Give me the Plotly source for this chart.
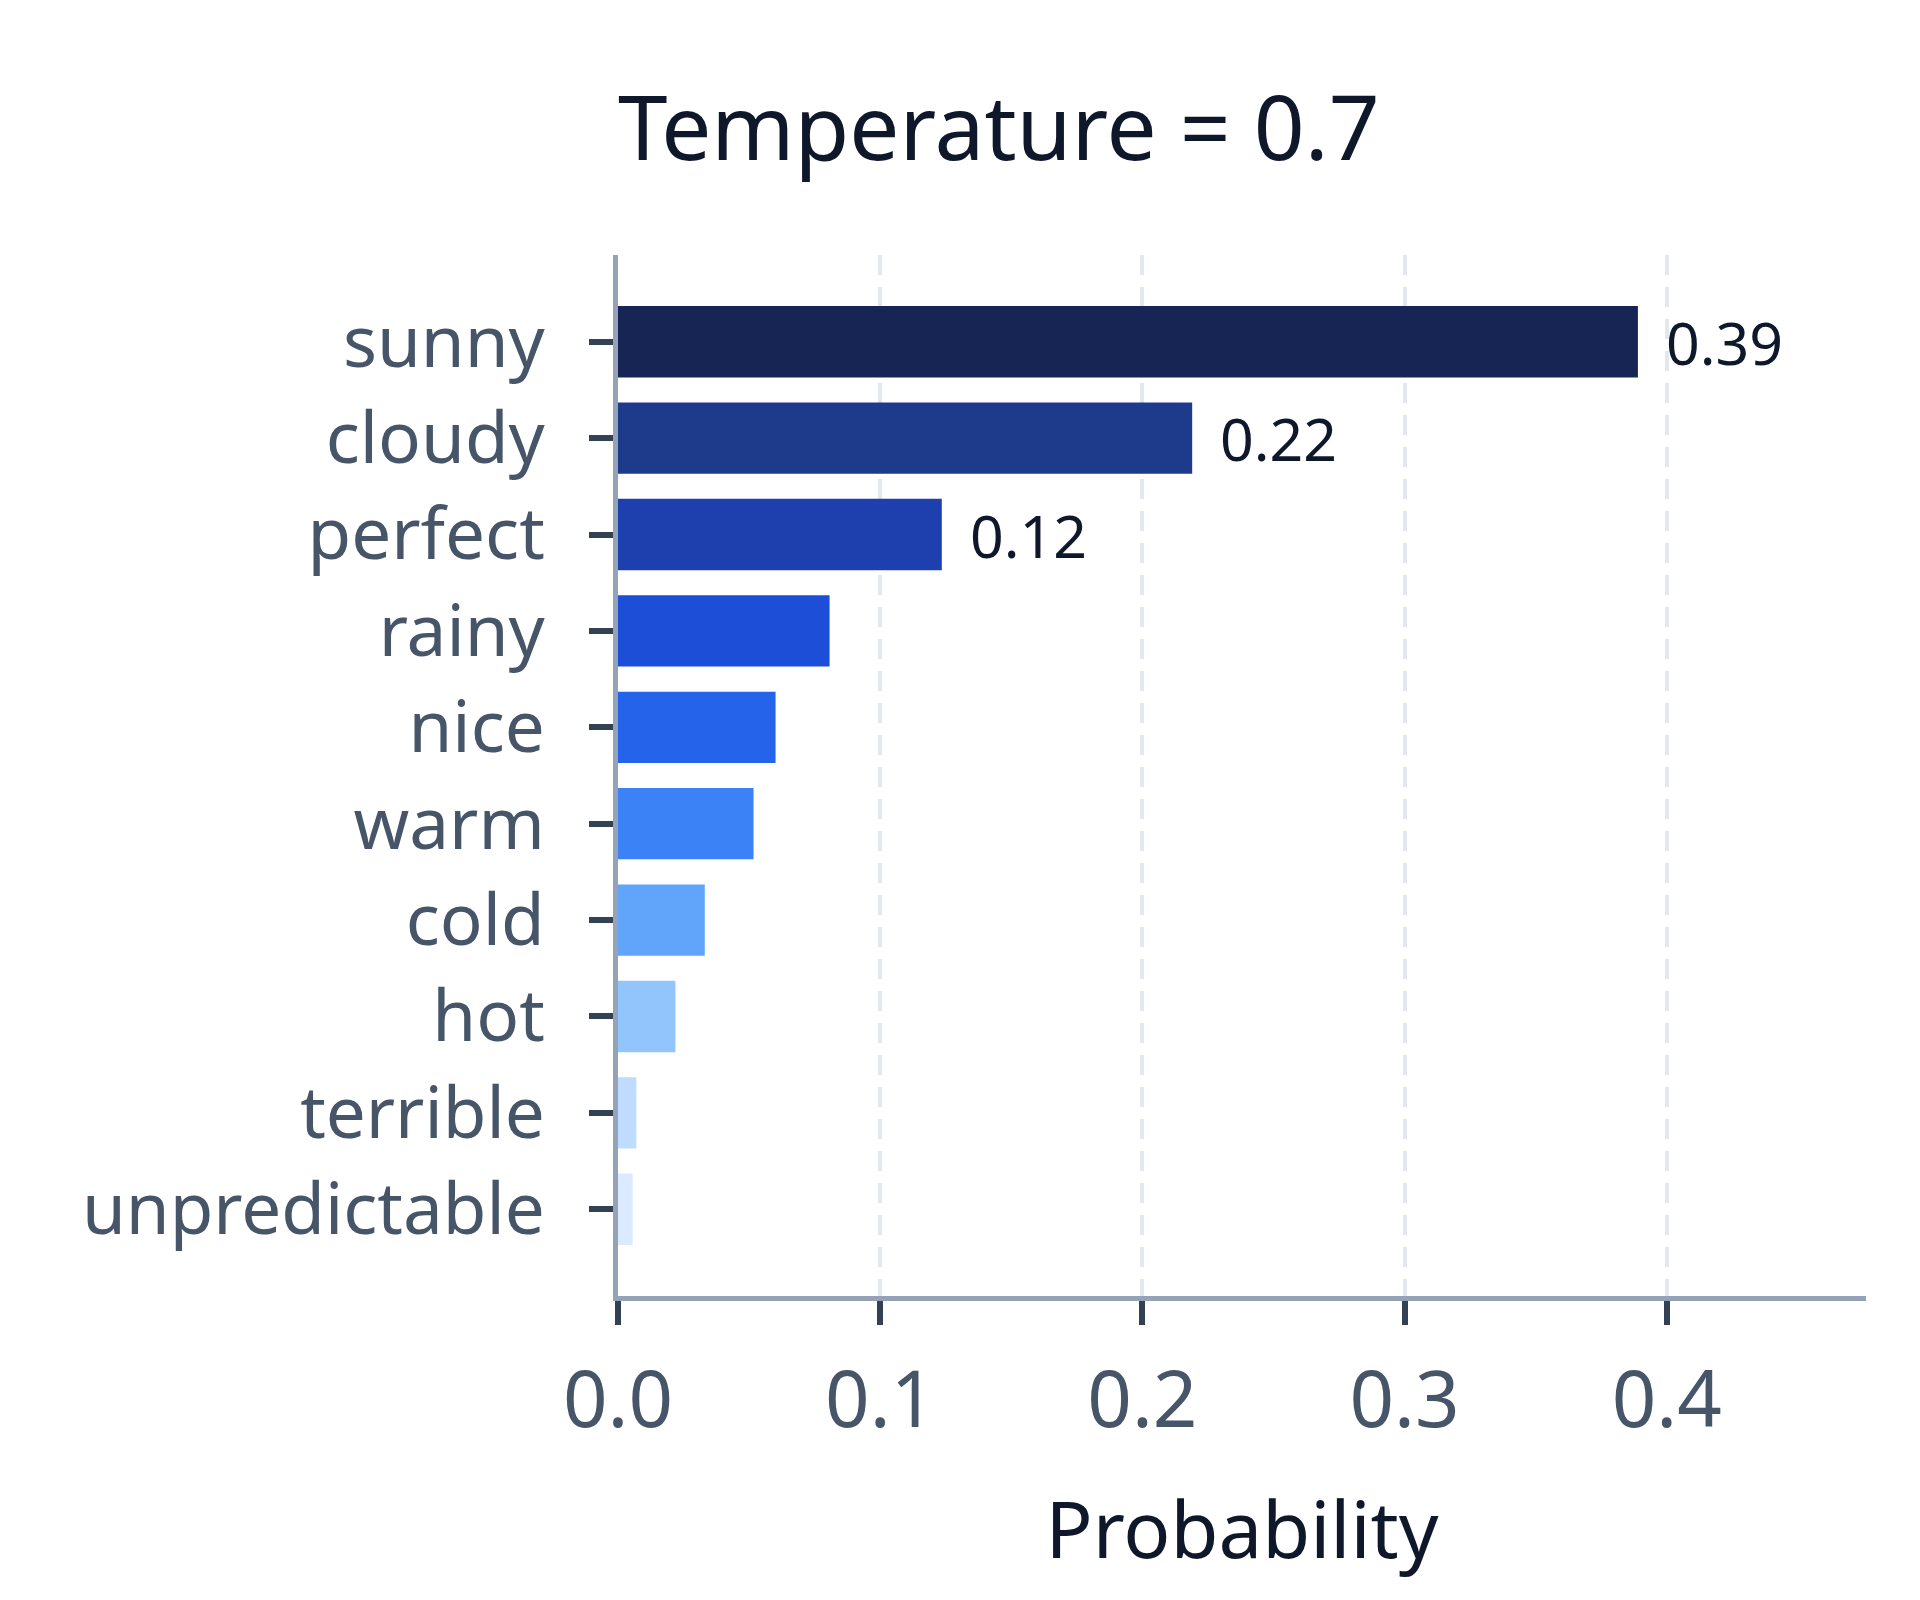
import plotly.graph_objects as go

# data
words = ['sunny', 'cloudy', 'perfect', 'rainy', 'nice', 'warm', 'cold', 'hot', 'terrible', 'unpredictable']
probs = [0.389, 0.219, 0.1235, 0.0807, 0.0601, 0.0517, 0.0331, 0.0219, 0.0070, 0.0056]
bar_colors = ['#172554', '#1e3a8a', '#1e40af', '#1d4ed8', '#2563eb',
              '#3b82f6', '#60a5fa', '#93c5fd', '#bfdbfe', '#dbeafe']
labelled = ['sunny', 'cloudy', 'perfect']

FONT = 'Noto Sans'

fig = go.Figure()

fig.add_trace(go.Bar(
    x=probs,
    y=words,
    orientation='h',
    marker=dict(color=bar_colors, line=dict(width=0)),
    hoverinfo='x+y',
))

# value labels for the top bars
for w, p in zip(words, probs):
    if w in labelled:
        fig.add_annotation(
            x=p, y=w, text=f'{p:.2f}',
            showarrow=False, xanchor='left', yanchor='middle',
            xshift=26,
            font=dict(family=FONT, size=59, color='#0f172a'),
        )

fig.update_layout(
    width=1920,
    height=1600,
    margin=dict(l=610, r=62, t=247, b=312),
    plot_bgcolor='white',
    paper_bgcolor='white',
    bargap=0.26,
    showlegend=False,
    title=dict(
        text='Temperature = 0.7',
        x=0.516, xanchor='center',
        y=1 - 121 / 1600, yanchor='middle',
        font=dict(family=FONT, size=89, color='#0f172a'),
    ),
    xaxis=dict(
        range=[0, 0.476],
        tickvals=[0, 0.1, 0.2, 0.3, 0.4],
        ticktext=['0.0', '0.1', '0.2', '0.3', '0.4'],
        showline=True, linecolor='#94a3b8', linewidth=5,
        ticks='outside', ticklen=24, tickwidth=6, tickcolor='#334155',
        tickfont=dict(family=FONT, size=78, color='#475569'),
        ticklabelstandoff=8,
        showgrid=True, gridcolor='#e2e8f0', gridwidth=4, griddash='20px,12px',
        zeroline=False,
        title=dict(text='Probability', standoff=56,
                   font=dict(family=FONT, size=78, color='#0f172a')),
    ),
    yaxis=dict(
        categoryorder='array', categoryarray=words,
        range=[9.9, -0.9],
        showline=True, linecolor='#94a3b8', linewidth=5,
        ticks='outside', ticklen=24, tickwidth=6, tickcolor='#334155',
        tickfont=dict(family=FONT, size=71, color='#475569'),
        ticklabelstandoff=30,
        showgrid=False, zeroline=False,
    ),
)

fig.write_html('out.html')
